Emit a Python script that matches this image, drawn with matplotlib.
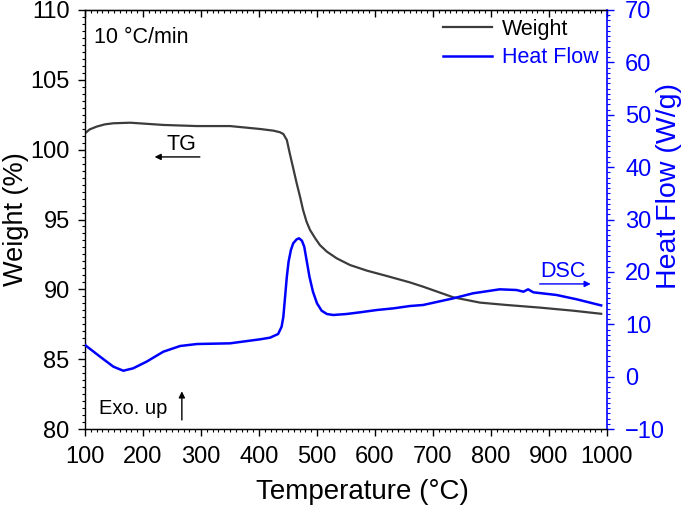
import matplotlib
matplotlib.use("Agg")
import matplotlib.pyplot as plt
from matplotlib.ticker import MultipleLocator

plt.rcParams['font.family'] = ['Liberation Sans', 'DejaVu Sans']

# ---- data ----
temp_w = [100, 108, 120, 134, 149, 178, 235, 293, 350, 402, 425, 436, 442, 448, 453,
          459, 465, 471, 476, 482, 488, 497, 505, 517, 534, 557, 586, 620, 660, 683,
          735, 781, 827, 885, 942, 990]
weight = [101.17, 101.45, 101.65, 101.81, 101.89, 101.93, 101.77, 101.69, 101.69,
          101.48, 101.36, 101.25, 101.12, 100.69, 99.74, 98.67, 97.59, 96.59, 95.68,
          94.84, 94.25, 93.65, 93.17, 92.70, 92.22, 91.74, 91.34, 90.96, 90.50, 90.19,
          89.43, 89.05, 88.88, 88.69, 88.47, 88.25]

temp_h = [100, 126, 149, 166, 183, 206, 235, 264, 293, 350, 402, 419, 433, 439, 442,
          445, 448, 451, 455, 459, 465, 469, 474, 478, 482, 487, 493, 500, 508, 517,
          528, 551, 574, 603, 632, 660, 683, 735, 769, 815, 844, 856, 864, 873, 913,
          948, 990]
heat = [6.04, 3.81, 1.9, 1.13, 1.59, 2.85, 4.76, 5.85, 6.23, 6.36, 7.13, 7.44, 8.14,
        9.54, 11.45, 15.26, 19.08, 21.94, 24.18, 25.46, 26.22, 26.41, 25.95, 24.81,
        22.27, 19.08, 16.22, 14.0, 12.59, 11.96, 11.77, 11.96, 12.28, 12.72, 13.04,
        13.48, 13.68, 14.95, 15.91, 16.67, 16.54, 16.22, 16.67, 16.1, 15.59, 14.76,
        13.6]

x_ticks = [100, 200, 300, 400, 500, 600, 700, 800, 900, 1000]
w_ticks = [80, 85, 90, 95, 100, 105, 110]
h_ticks = [-10, 0, 10, 20, 30, 40, 50, 60, 70]

GRAY = '#3c3c3c'
BLUE = '#0000ff'

fig = plt.figure(figsize=(6.85, 5.07), dpi=100)
ax = fig.add_axes([0.1241, 0.1538, 0.8861 - 0.1241, 0.9803 - 0.1538])
ax2 = ax.twinx()

l1, = ax.plot(temp_w, weight, color=GRAY, lw=1.6, label='Weight')
l2, = ax2.plot(temp_h, heat, color=BLUE, lw=1.8, label='Heat Flow')

ax.set_xlim(100, 1000)
ax.set_ylim(80, 110)
ax2.set_ylim(-10, 70)
ax.set_xticks(x_ticks)
ax.set_yticks(w_ticks)
ax2.set_yticks(h_ticks)
ax.xaxis.set_minor_locator(MultipleLocator(10))
ax.yaxis.set_minor_locator(MultipleLocator(0.5))
ax2.yaxis.set_minor_locator(MultipleLocator(1))

ax.tick_params(axis='x', which='major', direction='out', length=5, width=1,
               labelsize=17, pad=7)
ax.tick_params(axis='y', which='major', direction='out', length=5, width=1,
               labelsize=17, pad=6)
ax.tick_params(axis='both', which='minor', direction='out', length=2.5, width=0.8)
ax2.tick_params(axis='y', which='major', direction='out', length=5, width=1,
                labelsize=17, colors=BLUE, pad=8)
ax2.tick_params(axis='y', which='minor', direction='out', length=2.5, width=0.8,
                colors=BLUE)

secx = ax.secondary_xaxis('top')
secx.set_xticks(x_ticks)
secx.xaxis.set_minor_locator(MultipleLocator(10))
secx.tick_params(axis='x', which='major', direction='in', length=5, width=1, labeltop=False)
secx.tick_params(axis='x', which='minor', direction='in', length=2.5, width=0.8)

for s in ['left', 'bottom', 'top']:
    ax.spines[s].set_color('black')
    ax.spines[s].set_linewidth(1.0)
ax2.spines['right'].set_color(BLUE)
ax2.spines['right'].set_linewidth(1.2)
ax2.spines['left'].set_visible(False)
ax.spines['right'].set_visible(False)

ax.set_xlabel('Temperature (°C)', fontsize=20)
ax.xaxis.set_label_coords(0.531, -0.119)
ax.set_ylabel('Weight (%)', fontsize=19.5)
ax.yaxis.set_label_coords(-0.108, 0.5)
ax2.set_ylabel('Heat Flow (W/g)', fontsize=20.5, color=BLUE)
ax2.yaxis.set_label_coords(1.093, 0.58)

ax.text(116, 108.0, '10 °C/min', fontsize=15.5, va='center', ha='left')

ax.text(267, 100.35, 'TG', fontsize=15.5, ha='center', va='center')
ax.annotate('', xy=(220, 99.48), xytext=(298, 99.48),
            arrowprops=dict(arrowstyle='-|>', color='black', lw=1,
                            mutation_scale=9, shrinkA=0, shrinkB=0))

ax2.text(924, 20.0, 'DSC', fontsize=15.5, ha='center', va='center', color=BLUE)
ax2.annotate('', xy=(972, 17.7), xytext=(884, 17.7),
             arrowprops=dict(arrowstyle='-|>', color=BLUE, lw=1,
                             mutation_scale=9, shrinkA=0, shrinkB=0))

ax.text(124, 81.45, 'Exo. up', fontsize=14.5, ha='left', va='center')
ax.annotate('', xy=(267, 82.7), xytext=(267, 80.65),
            arrowprops=dict(arrowstyle='-|>', color='black', lw=1,
                            mutation_scale=9, shrinkA=0, shrinkB=0))

leg = ax2.legend([l1, l2], ['Weight', 'Heat Flow'], loc='upper right',
                 bbox_to_anchor=(1.0, 1.0), frameon=False, fontsize=15.5,
                 handlelength=2.3, handletextpad=0.45, labelspacing=0.35,
                 borderaxespad=0.0, labelcolor=['black', BLUE])

fig.savefig('out.png', dpi=100)
